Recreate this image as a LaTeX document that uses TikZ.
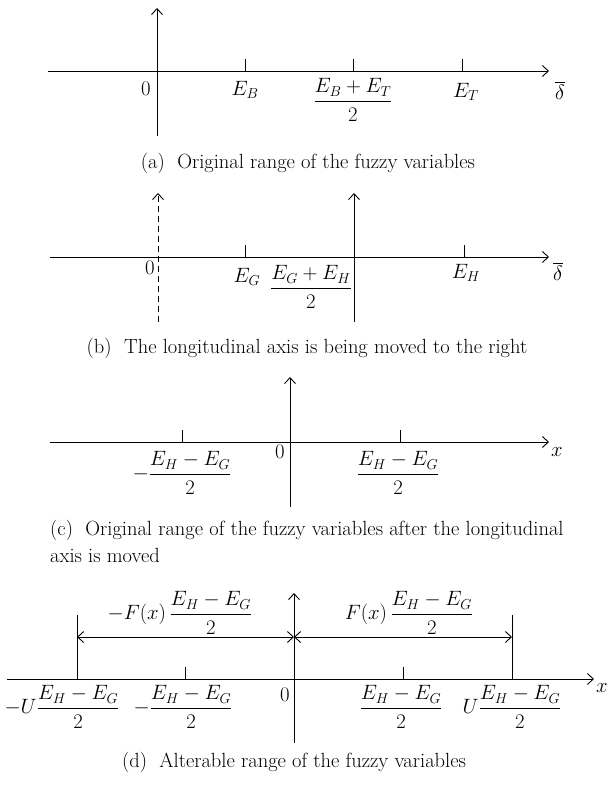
\documentclass[tikz,border=0pt]{standalone}
\usepackage{amsmath}
\usepackage{tikz}
\usetikzlibrary{arrows.meta}
\newcommand{\half}[1]{\dfrac{#1}{2}}
\newcommand{\dHG}{\half{E_H - E_G}}

\begin{document}
\begin{tikzpicture}[
    x=1pt, y=-1pt,
    axis/.style={line width=0.9pt, -{Straight Barb[length=6pt,width=11pt]}},
    tick/.style={line width=0.9pt},
    mv/.style={line width=0.9pt, dash pattern=on 6pt off 4pt, -{Straight Barb[length=6pt,width=11pt]}},
    rng/.style={line width=0.9pt, {Straight Barb[length=6pt,width=11pt]}-{Straight Barb[length=6pt,width=11pt]}},
    lbl/.style={font=\fontsize{19.5}{22}\selectfont, inner sep=0pt},
    captxt/.style={font=\fontsize{20.5}{27}\selectfont, inner sep=0pt}
]
\useasboundingbox (0,0) rectangle (607,786);

% (a) original range
\coordinate (a-xl) at (48,71);
\coordinate (a-xr) at (549,71);
\coordinate (a-yb) at (157,136);
\coordinate (a-yt) at (157,8);
\draw[axis] (a-xl) -- (a-xr);
\draw[axis] (a-yb) -- (a-yt);
\foreach \n/\x in {eb/245, mid/353, et/462} {
  \coordinate (a-\n) at (\x,71);
  \draw[tick] (a-\n) -- ++(0,-12);
}
\node[lbl] (a-zero) at (146,89) {$0$};
\node[lbl] (a-ebl) at (245,90) {$E_B$};
\node[lbl] (a-midl) at (353,100) {$\half{E_B + E_T}$};
\node[lbl] (a-etl) at (466,92) {$E_T$};
\node[lbl] (a-delta) at (560,90) {$\overline{\delta}$};
\node[captxt] (a-cap) at (308,163) {(a)\ \ Original range of the fuzzy variables};

% (b) axis being moved
\coordinate (b-xl) at (50,257);
\coordinate (b-xr) at (549,257);
\coordinate (b-ob) at (158,322);
\coordinate (b-ot) at (158,193);
\coordinate (b-nb) at (354,322);
\coordinate (b-nt) at (354,193);
\draw[axis] (b-xl) -- (b-xr);
\draw[mv] (b-ob) -- (b-ot);
\draw[axis] (b-nb) -- (b-nt);
\foreach \n/\x in {eg/245, eh/464} {
  \coordinate (b-\n) at (\x,257);
  \draw[tick] (b-\n) -- ++(0,-12);
}
\node[lbl] (b-zero) at (150,268) {$0$};
\node[lbl] (b-egl) at (247,277) {$E_G$};
\node[lbl] (b-midl) at (311,287) {$\half{E_G + E_H}$};
\node[lbl] (b-ehl) at (466,273) {$E_H$};
\node[lbl] (b-delta) at (558,271) {$\overline{\delta}$};
\node[captxt] (b-cap) at (307,348) {(b)\ \ The longitudinal axis is being moved to the right};

% (c) after the move
\coordinate (c-xl) at (50,442);
\coordinate (c-xr) at (549,442);
\coordinate (c-yb) at (290,507);
\coordinate (c-yt) at (290,377);
\draw[axis] (c-xl) -- (c-xr);
\draw[axis] (c-yb) -- (c-yt);
\foreach \n/\x in {neg/182, pos/400} {
  \coordinate (c-\n) at (\x,442);
  \draw[tick] (c-\n) -- ++(0,-12);
}
\node[lbl] (c-negl) at (182,473) {$-\dHG$};
\node[lbl] (c-zero) at (280,452) {$0$};
\node[lbl] (c-posl) at (398,473) {$\dHG$};
\node[lbl] (c-x) at (557,452) {$x$};
\node[captxt, anchor=north west, align=left] (c-cap) at (50,520)
  {(c)\ \ Original range of the fuzzy variables after the longitudinal\\axis is moved};

% (d) alterable range
\coordinate (d-xl) at (7,679);
\coordinate (d-xr) at (594,679);
\coordinate (d-yb) at (294,743);
\coordinate (d-yt) at (294,593);
\draw[axis] (d-xl) -- (d-xr);
\draw[axis] (d-yb) -- (d-yt);
\coordinate (d-ul) at (77,679);
\coordinate (d-ur) at (512,679);
\draw[tick] (d-ul) -- (77,615);
\draw[tick] (d-ur) -- (512,615);
\foreach \n/\x in {neg/185, pos/403} {
  \coordinate (d-\n) at (\x,679);
  \draw[tick] (d-\n) -- ++(0,-12);
}
\coordinate (d-sl) at (77,637);
\coordinate (d-sm) at (294,637);
\coordinate (d-sr) at (512,637);
\draw[rng] (d-sl) -- (d-sm);
\draw[rng] (d-sm) -- (d-sr);
\node[lbl] (d-fneg) at (180,613) {$-F(x)\,\dHG$};
\node[lbl] (d-fpos) at (409,613) {$F(x)\,\dHG$};
\node[lbl] (d-ulab) at (62,707) {$-U\dHG$};
\node[lbl] (d-negl) at (183,707) {$-\dHG$};
\node[lbl] (d-zero) at (285,695) {$0$};
\node[lbl] (d-posl) at (401,707) {$\dHG$};
\node[lbl] (d-urlab) at (512,707) {$U\dHG$};
\node[lbl] (d-x) at (602,688) {$x$};
\node[captxt] (d-cap) at (294,762) {(d)\ \ Alterable range of the fuzzy variables};
\end{tikzpicture}
\end{document}
